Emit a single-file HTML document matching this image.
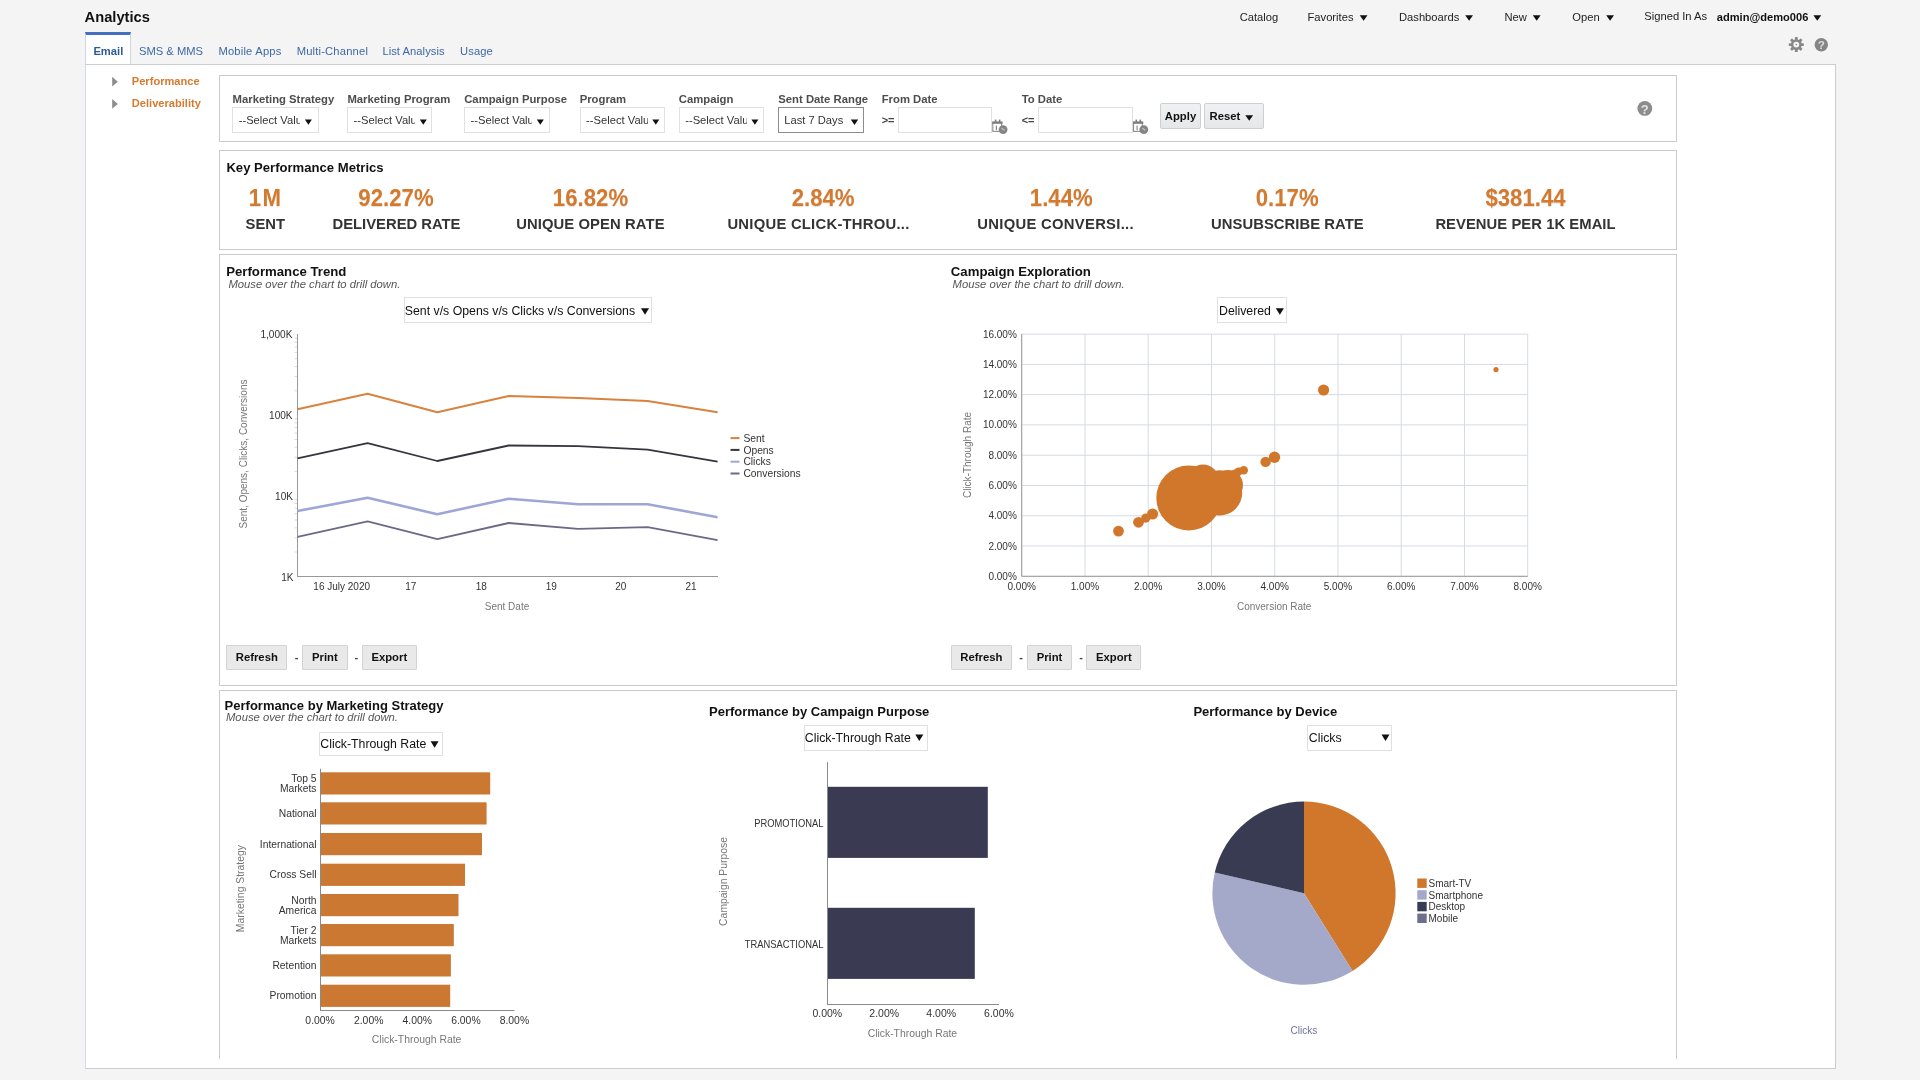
<!DOCTYPE html>
<html><head><meta charset="utf-8"><title>Analytics</title>
<style>
html,body{margin:0;padding:0;}
body{will-change:transform;width:1920px;height:1080px;overflow:hidden;background:#f4f4f4;font-family:"Liberation Sans", sans-serif;position:relative;}
.t{position:absolute;white-space:nowrap;}
.b{position:absolute;}
svg{position:absolute;left:0;top:0;}
svg text{font-family:"Liberation Sans", sans-serif;}
</style></head><body>
<div class="t" style="top:10.18px;font-size:14.7px;line-height:14.7px;font-weight:bold;color:#111;left:84.60px;">Analytics</div>
<div class="t" style="top:11.94px;font-size:11.2px;line-height:11.2px;color:#222;left:1239.70px;">Catalog</div>
<div class="t" style="top:11.94px;font-size:11.2px;line-height:11.2px;color:#222;left:1307.50px;">Favorites</div>
<div class="t" style="top:11.94px;font-size:11.2px;line-height:11.2px;color:#222;left:1399.00px;">Dashboards</div>
<div class="t" style="top:11.94px;font-size:11.2px;line-height:11.2px;color:#222;left:1504.50px;">New</div>
<div class="t" style="top:11.94px;font-size:11.2px;line-height:11.2px;color:#222;left:1572.30px;">Open</div>
<div class="t" style="top:11.14px;font-size:11.2px;line-height:11.2px;color:#222;left:1644.30px;">Signed In As</div>
<div class="t" style="top:12.02px;font-size:11.1px;line-height:11.1px;font-weight:bold;color:#111;left:1716.80px;">admin@demo006</div>
<div class="b" style="left:85px;top:64px;width:1751px;height:1005px;background:#fff;border:1px solid #cbcdd1;border-left-color:#d6d9e6;box-sizing:border-box;"></div>
<div class="b" style="left:85px;top:32px;width:46px;height:32px;background:#fff;border-left:1px solid #cfd5e2;border-right:1px solid #cfd5e2;border-top:3px solid #4470bf;box-sizing:border-box;"></div>
<div class="b" style="left:85px;top:63.5px;width:1751px;height:1.5px;background:#cbced3;"></div>
<div class="t" style="top:45.74px;font-size:11.2px;line-height:11.2px;font-weight:bold;color:#2f5b98;left:93.40px;">Email</div>
<div class="t" style="top:45.74px;font-size:11.2px;line-height:11.2px;color:#3d68a6;left:139.00px;letter-spacing:0px;">SMS &amp; MMS</div>
<div class="t" style="top:45.74px;font-size:11.2px;line-height:11.2px;color:#3d68a6;left:218.40px;letter-spacing:0.2px;">Mobile Apps</div>
<div class="t" style="top:45.74px;font-size:11.2px;line-height:11.2px;color:#3d68a6;left:296.70px;letter-spacing:0.18px;">Multi-Channel</div>
<div class="t" style="top:45.74px;font-size:11.2px;line-height:11.2px;color:#3d68a6;left:382.40px;letter-spacing:0.05px;">List Analysis</div>
<div class="t" style="top:45.74px;font-size:11.2px;line-height:11.2px;color:#3d68a6;left:460.10px;letter-spacing:0.1px;">Usage</div>
<div class="t" style="top:75.82px;font-size:11.1px;line-height:11.1px;font-weight:bold;color:#d57a2e;left:131.80px;">Performance</div>
<div class="t" style="top:97.92px;font-size:11.1px;line-height:11.1px;font-weight:bold;color:#d57a2e;left:131.80px;">Deliverability</div>
<div class="b" style="left:219px;top:75px;width:1458px;height:67px;background:#fff;border:1px solid #cacaca;box-sizing:border-box;"></div>
<div class="t" style="top:93.75px;font-size:11.3px;line-height:11.3px;font-weight:bold;color:#4d4d4d;left:232.60px;">Marketing Strategy</div>
<div class="t" style="top:93.75px;font-size:11.3px;line-height:11.3px;font-weight:bold;color:#4d4d4d;left:347.40px;">Marketing Program</div>
<div class="t" style="top:93.75px;font-size:11.3px;line-height:11.3px;font-weight:bold;color:#4d4d4d;left:464.20px;">Campaign Purpose</div>
<div class="t" style="top:93.75px;font-size:11.3px;line-height:11.3px;font-weight:bold;color:#4d4d4d;left:579.70px;">Program</div>
<div class="t" style="top:93.75px;font-size:11.3px;line-height:11.3px;font-weight:bold;color:#4d4d4d;left:678.80px;">Campaign</div>
<div class="t" style="top:93.75px;font-size:11.3px;line-height:11.3px;font-weight:bold;color:#4d4d4d;left:778.30px;">Sent Date Range</div>
<div class="t" style="top:93.75px;font-size:11.3px;line-height:11.3px;font-weight:bold;color:#4d4d4d;left:881.70px;">From Date</div>
<div class="t" style="top:93.75px;font-size:11.3px;line-height:11.3px;font-weight:bold;color:#4d4d4d;left:1021.70px;">To Date</div>
<div class="b" style="left:232px;top:107px;width:87px;height:26px;border:1px solid #e1e1e1;box-sizing:border-box;background:#fff;"></div>
<div class="t" style="left:238.7px;top:114.84px;font-size:11.2px;line-height:11.2px;color:#333;width:61.5px;overflow:hidden;">--Select Value</div>
<div class="b" style="left:347px;top:107px;width:85px;height:26px;border:1px solid #e1e1e1;box-sizing:border-box;background:#fff;"></div>
<div class="t" style="left:353.6px;top:114.84px;font-size:11.2px;line-height:11.2px;color:#333;width:61.5px;overflow:hidden;">--Select Value</div>
<div class="b" style="left:464px;top:107px;width:86px;height:26px;border:1px solid #e1e1e1;box-sizing:border-box;background:#fff;"></div>
<div class="t" style="left:470.6px;top:114.84px;font-size:11.2px;line-height:11.2px;color:#333;width:61.5px;overflow:hidden;">--Select Value</div>
<div class="b" style="left:580px;top:107px;width:85px;height:26px;border:1px solid #e1e1e1;box-sizing:border-box;background:#fff;"></div>
<div class="t" style="left:586.1px;top:114.84px;font-size:11.2px;line-height:11.2px;color:#333;width:61.5px;overflow:hidden;">--Select Value</div>
<div class="b" style="left:679px;top:107px;width:85px;height:26px;border:1px solid #e1e1e1;box-sizing:border-box;background:#fff;"></div>
<div class="t" style="left:685.2px;top:114.84px;font-size:11.2px;line-height:11.2px;color:#333;width:61.5px;overflow:hidden;">--Select Value</div>
<div class="b" style="left:778px;top:107px;width:86px;height:26px;border:1px solid #8c8c8c;box-sizing:border-box;background:#fff;"></div>
<div class="t" style="top:114.84px;font-size:11.2px;line-height:11.2px;color:#333;left:784.20px;">Last 7 Days</div>
<div class="t" style="top:114.50px;font-size:11px;line-height:11px;font-weight:bold;color:#444;left:881.70px;">&gt;=</div>
<div class="b" style="left:898px;top:107px;width:94px;height:26px;border:1px solid #e1e1e1;box-sizing:border-box;background:#fff;"></div>
<div class="t" style="top:114.50px;font-size:11px;line-height:11px;font-weight:bold;color:#444;left:1021.70px;">&lt;=</div>
<div class="b" style="left:1038px;top:107px;width:95px;height:26px;border:1px solid #e1e1e1;box-sizing:border-box;background:#fff;"></div>
<div class="b" style="left:1160px;top:103px;width:41px;height:26px;background:linear-gradient(#f0f1f2,#e6e7e8);border:1px solid #cdd0d3;box-sizing:border-box;border-radius:2px;"></div>
<div class="t" style="top:111.45px;font-size:11.3px;line-height:11.3px;font-weight:bold;color:#111;left:1180.50px;transform:translateX(-50%);">Apply</div>
<div class="b" style="left:1204px;top:103px;width:60px;height:26px;background:linear-gradient(#f0f1f2,#e6e7e8);border:1px solid #cdd0d3;box-sizing:border-box;border-radius:2px;"></div>
<div class="t" style="top:111.45px;font-size:11.3px;line-height:11.3px;font-weight:bold;color:#111;left:1209.60px;">Reset</div>
<div class="b" style="left:219px;top:150px;width:1458px;height:100px;background:#fff;border:1px solid #cacaca;box-sizing:border-box;"></div>
<div class="t" style="top:160.73px;font-size:13.1px;line-height:13.1px;font-weight:bold;color:#111;left:226.40px;">Key Performance Metrics</div>
<div class="t" style="top:188.14px;font-size:22.2px;line-height:22.2px;font-weight:bold;color:#d5792d;left:265.50px;transform:translateX(-50%) scaleY(1.09);transform-origin:50% 18.76px;text-shadow:0 1px 1px rgba(0,0,0,0.13);letter-spacing:1.3px;">1M</div>
<div class="t" style="top:188.14px;font-size:22.2px;line-height:22.2px;font-weight:bold;color:#d5792d;left:396.00px;transform:translateX(-50%) scaleY(1.09);transform-origin:50% 18.76px;text-shadow:0 1px 1px rgba(0,0,0,0.13);letter-spacing:0px;">92.27%</div>
<div class="t" style="top:188.14px;font-size:22.2px;line-height:22.2px;font-weight:bold;color:#d5792d;left:590.50px;transform:translateX(-50%) scaleY(1.09);transform-origin:50% 18.76px;text-shadow:0 1px 1px rgba(0,0,0,0.13);letter-spacing:0px;">16.82%</div>
<div class="t" style="top:188.14px;font-size:22.2px;line-height:22.2px;font-weight:bold;color:#d5792d;left:823.10px;transform:translateX(-50%) scaleY(1.09);transform-origin:50% 18.76px;text-shadow:0 1px 1px rgba(0,0,0,0.13);letter-spacing:0px;">2.84%</div>
<div class="t" style="top:188.14px;font-size:22.2px;line-height:22.2px;font-weight:bold;color:#d5792d;left:1061.30px;transform:translateX(-50%) scaleY(1.09);transform-origin:50% 18.76px;text-shadow:0 1px 1px rgba(0,0,0,0.13);letter-spacing:0px;">1.44%</div>
<div class="t" style="top:188.14px;font-size:22.2px;line-height:22.2px;font-weight:bold;color:#d5792d;left:1287.20px;transform:translateX(-50%) scaleY(1.09);transform-origin:50% 18.76px;text-shadow:0 1px 1px rgba(0,0,0,0.13);letter-spacing:0px;">0.17%</div>
<div class="t" style="top:188.14px;font-size:22.2px;line-height:22.2px;font-weight:bold;color:#d5792d;left:1525.50px;transform:translateX(-50%) scaleY(1.09);transform-origin:50% 18.76px;text-shadow:0 1px 1px rgba(0,0,0,0.13);letter-spacing:0px;">$381.44</div>
<div class="t" style="top:217.49px;font-size:14.8px;line-height:14.8px;font-weight:bold;color:#333;left:265.30px;transform:translateX(-50%);letter-spacing:0px;">SENT</div>
<div class="t" style="top:217.49px;font-size:14.8px;line-height:14.8px;font-weight:bold;color:#333;left:396.50px;transform:translateX(-50%);letter-spacing:0px;">DELIVERED RATE</div>
<div class="t" style="top:217.49px;font-size:14.8px;line-height:14.8px;font-weight:bold;color:#333;left:590.40px;transform:translateX(-50%);letter-spacing:0.1px;">UNIQUE OPEN RATE</div>
<div class="t" style="top:217.49px;font-size:14.8px;line-height:14.8px;font-weight:bold;color:#333;left:818.50px;transform:translateX(-50%);letter-spacing:0.26px;">UNIQUE CLICK-THROU...</div>
<div class="t" style="top:217.49px;font-size:14.8px;line-height:14.8px;font-weight:bold;color:#333;left:1055.60px;transform:translateX(-50%);letter-spacing:0.3px;">UNIQUE CONVERSI...</div>
<div class="t" style="top:217.49px;font-size:14.8px;line-height:14.8px;font-weight:bold;color:#333;left:1287.40px;transform:translateX(-50%);letter-spacing:0.05px;">UNSUBSCRIBE RATE</div>
<div class="t" style="top:217.49px;font-size:14.8px;line-height:14.8px;font-weight:bold;color:#333;left:1525.50px;transform:translateX(-50%);letter-spacing:0.05px;">REVENUE PER 1K EMAIL</div>
<div class="b" style="left:219px;top:254px;width:1458px;height:432px;background:#fff;border:1px solid #cacaca;box-sizing:border-box;"></div>
<div class="t" style="top:264.75px;font-size:13.2px;line-height:13.2px;font-weight:bold;color:#111;left:226.20px;">Performance Trend</div>
<div class="t" style="top:278.59px;font-size:11.25px;line-height:11.25px;font-style:italic;color:#555;left:228.40px;">Mouse over the chart to drill down.</div>
<div class="t" style="top:264.75px;font-size:13.2px;line-height:13.2px;font-weight:bold;color:#111;left:950.80px;">Campaign Exploration</div>
<div class="t" style="top:278.59px;font-size:11.25px;line-height:11.25px;font-style:italic;color:#555;left:952.60px;">Mouse over the chart to drill down.</div>
<div class="b" style="left:404px;top:297px;width:248px;height:25.5px;border:1px solid #e0e0e0;box-sizing:border-box;background:#fff;"></div>
<div class="t" style="top:304.61px;font-size:12.3px;line-height:12.3px;color:#111;left:404.80px;">Sent v/s Opens v/s Clicks v/s Conversions</div>
<div class="b" style="left:1217px;top:297px;width:70px;height:25.5px;border:1px solid #e0e0e0;box-sizing:border-box;background:#fff;"></div>
<div class="t" style="top:304.61px;font-size:12.3px;line-height:12.3px;color:#111;left:1219.00px;">Delivered</div>
<div class="b" style="left:226.1px;top:645px;width:61.400000000000006px;height:24.5px;background:#e9e9e9;border:1px solid #d3d3d3;box-sizing:border-box;border-radius:1px;"></div>
<div class="t" style="top:651.75px;font-size:11.3px;line-height:11.3px;font-weight:bold;color:#111;left:256.80px;transform:translateX(-50%);">Refresh</div>
<div class="t" style="top:651.71px;font-size:11px;line-height:11px;font-weight:bold;color:#444;left:296.60px;transform:translateX(-50%);">-</div>
<div class="b" style="left:302.0px;top:645px;width:45.89999999999998px;height:24.5px;background:#e9e9e9;border:1px solid #d3d3d3;box-sizing:border-box;border-radius:1px;"></div>
<div class="t" style="top:651.75px;font-size:11.3px;line-height:11.3px;font-weight:bold;color:#111;left:324.90px;transform:translateX(-50%);">Print</div>
<div class="t" style="top:651.71px;font-size:11px;line-height:11px;font-weight:bold;color:#444;left:356.40px;transform:translateX(-50%);">-</div>
<div class="b" style="left:361.79999999999995px;top:645px;width:54.900000000000034px;height:24.5px;background:#e9e9e9;border:1px solid #d3d3d3;box-sizing:border-box;border-radius:1px;"></div>
<div class="t" style="top:651.75px;font-size:11.3px;line-height:11.3px;font-weight:bold;color:#111;left:389.30px;transform:translateX(-50%);">Export</div>
<div class="b" style="left:950.7px;top:645px;width:61.39999999999998px;height:24.5px;background:#e9e9e9;border:1px solid #d3d3d3;box-sizing:border-box;border-radius:1px;"></div>
<div class="t" style="top:651.75px;font-size:11.3px;line-height:11.3px;font-weight:bold;color:#111;left:981.40px;transform:translateX(-50%);">Refresh</div>
<div class="t" style="top:651.71px;font-size:11px;line-height:11px;font-weight:bold;color:#444;left:1021.20px;transform:translateX(-50%);">-</div>
<div class="b" style="left:1026.6000000000001px;top:645px;width:45.899999999999864px;height:24.5px;background:#e9e9e9;border:1px solid #d3d3d3;box-sizing:border-box;border-radius:1px;"></div>
<div class="t" style="top:651.75px;font-size:11.3px;line-height:11.3px;font-weight:bold;color:#111;left:1049.50px;transform:translateX(-50%);">Print</div>
<div class="t" style="top:651.71px;font-size:11px;line-height:11px;font-weight:bold;color:#444;left:1081.00px;transform:translateX(-50%);">-</div>
<div class="b" style="left:1086.4px;top:645px;width:54.899999999999864px;height:24.5px;background:#e9e9e9;border:1px solid #d3d3d3;box-sizing:border-box;border-radius:1px;"></div>
<div class="t" style="top:651.75px;font-size:11.3px;line-height:11.3px;font-weight:bold;color:#111;left:1113.90px;transform:translateX(-50%);">Export</div>
<div class="b" style="left:219px;top:690px;width:1458px;height:369px;background:#fff;border:1px solid #cacaca;box-sizing:border-box;border-bottom:none;"></div>
<div class="t" style="top:698.91px;font-size:13px;line-height:13px;font-weight:bold;color:#111;left:224.60px;">Performance by Marketing Strategy</div>
<div class="t" style="top:712.39px;font-size:11.25px;line-height:11.25px;font-style:italic;color:#555;left:226.00px;">Mouse over the chart to drill down.</div>
<div class="t" style="top:705.12px;font-size:13px;line-height:13px;font-weight:bold;color:#111;left:709.00px;">Performance by Campaign Purpose</div>
<div class="t" style="top:705.12px;font-size:13px;line-height:13px;font-weight:bold;color:#111;left:1193.40px;">Performance by Device</div>
<div class="b" style="left:319.4px;top:731.5px;width:123.60000000000002px;height:24.700000000000045px;border:1px solid #e0e0e0;box-sizing:border-box;background:#fff;"></div>
<div class="t" style="top:738.21px;font-size:12.3px;line-height:12.3px;color:#111;left:320.30px;">Click-Through Rate</div>
<div class="b" style="left:804px;top:725px;width:123.60000000000002px;height:25.799999999999955px;border:1px solid #e0e0e0;box-sizing:border-box;background:#fff;"></div>
<div class="t" style="top:731.91px;font-size:12.3px;line-height:12.3px;color:#111;left:804.80px;">Click-Through Rate</div>
<div class="b" style="left:1307.1px;top:725px;width:85.20000000000005px;height:25.5px;border:1px solid #e0e0e0;box-sizing:border-box;background:#fff;"></div>
<div class="t" style="top:731.91px;font-size:12.3px;line-height:12.3px;color:#111;left:1308.80px;">Clicks</div>
<div class="b" style="left:0px;top:1069px;width:1920px;height:11px;background:#f4f4f4;"></div>
<svg width="1920" height="1080" viewBox="0 0 1920 1080">
<polygon points="1359.7,15.2 1367.5,15.2 1363.6,20.8" fill="#111"/>
<polygon points="1465.2,15.2 1473,15.2 1469.1,20.8" fill="#111"/>
<polygon points="1532.8,15.2 1540.6,15.2 1536.6999999999998,20.8" fill="#111"/>
<polygon points="1606.2,15.2 1614,15.2 1610.1,20.8" fill="#111"/>
<polygon points="1813.4,15.2 1821.2,15.2 1817.3000000000002,20.8" fill="#111"/>
<rect x="1794.8999999999999" y="37.1" width="2.8" height="3.6" rx="0.6" fill="#878787" transform="rotate(0 1796.3 44.6)"/><rect x="1794.8999999999999" y="37.1" width="2.8" height="3.6" rx="0.6" fill="#878787" transform="rotate(45 1796.3 44.6)"/><rect x="1794.8999999999999" y="37.1" width="2.8" height="3.6" rx="0.6" fill="#878787" transform="rotate(90 1796.3 44.6)"/><rect x="1794.8999999999999" y="37.1" width="2.8" height="3.6" rx="0.6" fill="#878787" transform="rotate(135 1796.3 44.6)"/><rect x="1794.8999999999999" y="37.1" width="2.8" height="3.6" rx="0.6" fill="#878787" transform="rotate(180 1796.3 44.6)"/><rect x="1794.8999999999999" y="37.1" width="2.8" height="3.6" rx="0.6" fill="#878787" transform="rotate(225 1796.3 44.6)"/><rect x="1794.8999999999999" y="37.1" width="2.8" height="3.6" rx="0.6" fill="#878787" transform="rotate(270 1796.3 44.6)"/><rect x="1794.8999999999999" y="37.1" width="2.8" height="3.6" rx="0.6" fill="#878787" transform="rotate(315 1796.3 44.6)"/><circle cx="1796.3" cy="44.6" r="5.4" fill="#878787"/><circle cx="1796.3" cy="44.6" r="2.9" fill="#f4f4f4"/><circle cx="1796.3" cy="44.6" r="0.8" fill="#878787"/>
<circle cx="1821.3" cy="44.7" r="6.7" fill="#858585"/>
<text x="1821.3" y="49.39" font-size="11.7" font-weight="bold" fill="#dcdcdc" text-anchor="middle">?</text>
<polygon points="112.2,76.8 117.8,81.69999999999999 112.2,86.6" fill="#8d8d8d"/>
<polygon points="112.2,99.0 117.8,103.9 112.2,108.8" fill="#8d8d8d"/>
<polygon points="304.9,119.4 311.9,119.4 308.4,124.8" fill="#111"/>
<polygon points="419.79999999999995,119.4 426.79999999999995,119.4 423.29999999999995,124.8" fill="#111"/>
<polygon points="536.8,119.4 543.8,119.4 540.3,124.8" fill="#111"/>
<polygon points="652.3000000000001,119.4 659.3000000000001,119.4 655.8000000000001,124.8" fill="#111"/>
<polygon points="751.4,119.4 758.4,119.4 754.9,124.8" fill="#111"/>
<polygon points="850.8,119.6 858.2,119.6 854.5,125" fill="#111"/>
<rect x="992.8000000000001" y="122.19999999999999" width="8.8" height="9.2" fill="#fff" stroke="#8d8d8d" stroke-width="1.1"/><rect x="992.2" y="121.6" width="10.4" height="2.2" fill="#7d7d7d"/><rect x="994.8000000000001" y="119.6" width="1.6" height="2.5" fill="#7d7d7d"/><rect x="998.8000000000001" y="119.6" width="1.6" height="2.5" fill="#7d7d7d"/><rect x="995.8000000000001" y="125.6" width="1.2" height="4.6" fill="#8d8d8d"/><circle cx="1003.1" cy="129.6" r="4.4" fill="#858585"/><path d="M1001.6 128.2 L1004.6 130.2" stroke="#c4c4c8" stroke-width="1.3" fill="none"/>
<rect x="1133.5" y="122.19999999999999" width="8.8" height="9.2" fill="#fff" stroke="#8d8d8d" stroke-width="1.1"/><rect x="1132.9" y="121.6" width="10.4" height="2.2" fill="#7d7d7d"/><rect x="1135.5" y="119.6" width="1.6" height="2.5" fill="#7d7d7d"/><rect x="1139.5" y="119.6" width="1.6" height="2.5" fill="#7d7d7d"/><rect x="1136.5" y="125.6" width="1.2" height="4.6" fill="#8d8d8d"/><circle cx="1143.8000000000002" cy="129.6" r="4.4" fill="#858585"/><path d="M1142.3000000000002 128.2 L1145.3000000000002 130.2" stroke="#c4c4c8" stroke-width="1.3" fill="none"/>
<polygon points="1245.3,115.2 1253.1,115.2 1249.1999999999998,120.7" fill="#111"/>
<circle cx="1644.8" cy="108.4" r="7.4" fill="#8c8c8c"/>
<text x="1644.8" y="113.58" font-size="13.0" font-weight="bold" fill="#e4e4e6" text-anchor="middle">?</text>
<polygon points="641,308.3 649,308.3 645.0,314.7" fill="#111"/>
<polygon points="1275.8,308.3 1283.9,308.3 1279.85,314.7" fill="#111"/>
<line x1="297.5" y1="334" x2="297.5" y2="576.5" stroke="#999999" stroke-width="1"/>
<line x1="297" y1="576.5" x2="718" y2="576.5" stroke="#999999" stroke-width="1"/>
<line x1="294.5" y1="552.0" x2="297" y2="552.0" stroke="#dadada" stroke-width="1"/>
<line x1="294.5" y1="537.8" x2="297" y2="537.8" stroke="#dadada" stroke-width="1"/>
<line x1="294.5" y1="527.8" x2="297" y2="527.8" stroke="#dadada" stroke-width="1"/>
<line x1="294.5" y1="520.0" x2="297" y2="520.0" stroke="#dadada" stroke-width="1"/>
<line x1="294.5" y1="513.6" x2="297" y2="513.6" stroke="#dadada" stroke-width="1"/>
<line x1="294.5" y1="508.2" x2="297" y2="508.2" stroke="#dadada" stroke-width="1"/>
<line x1="294.5" y1="503.5" x2="297" y2="503.5" stroke="#dadada" stroke-width="1"/>
<line x1="294.5" y1="499.4" x2="297" y2="499.4" stroke="#dadada" stroke-width="1"/>
<line x1="294.5" y1="471.4" x2="297" y2="471.4" stroke="#dadada" stroke-width="1"/>
<line x1="294.5" y1="457.2" x2="297" y2="457.2" stroke="#dadada" stroke-width="1"/>
<line x1="294.5" y1="447.2" x2="297" y2="447.2" stroke="#dadada" stroke-width="1"/>
<line x1="294.5" y1="439.4" x2="297" y2="439.4" stroke="#dadada" stroke-width="1"/>
<line x1="294.5" y1="433.0" x2="297" y2="433.0" stroke="#dadada" stroke-width="1"/>
<line x1="294.5" y1="427.6" x2="297" y2="427.6" stroke="#dadada" stroke-width="1"/>
<line x1="294.5" y1="422.9" x2="297" y2="422.9" stroke="#dadada" stroke-width="1"/>
<line x1="294.5" y1="418.8" x2="297" y2="418.8" stroke="#dadada" stroke-width="1"/>
<line x1="294.5" y1="390.8" x2="297" y2="390.8" stroke="#dadada" stroke-width="1"/>
<line x1="294.5" y1="376.6" x2="297" y2="376.6" stroke="#dadada" stroke-width="1"/>
<line x1="294.5" y1="366.6" x2="297" y2="366.6" stroke="#dadada" stroke-width="1"/>
<line x1="294.5" y1="358.8" x2="297" y2="358.8" stroke="#dadada" stroke-width="1"/>
<line x1="294.5" y1="352.4" x2="297" y2="352.4" stroke="#dadada" stroke-width="1"/>
<line x1="294.5" y1="347.0" x2="297" y2="347.0" stroke="#dadada" stroke-width="1"/>
<line x1="294.5" y1="342.3" x2="297" y2="342.3" stroke="#dadada" stroke-width="1"/>
<line x1="294.5" y1="338.2" x2="297" y2="338.2" stroke="#dadada" stroke-width="1"/>
<text x="293.6" y="580.9" font-size="10.1" fill="#333" text-anchor="end">1K</text>
<text x="293.0" y="499.59999999999997" font-size="10.1" fill="#333" text-anchor="end">10K</text>
<text x="292.6" y="419.0" font-size="10.1" fill="#333" text-anchor="end">100K</text>
<text x="292.4" y="338.1" font-size="10.1" fill="#333" text-anchor="end">1,000K</text>
<text x="341.7" y="589.6" font-size="10" fill="#333" text-anchor="middle">16 July 2020</text>
<text x="410.8" y="589.6" font-size="10" fill="#333" text-anchor="middle">17</text>
<text x="481.2" y="589.6" font-size="10" fill="#333" text-anchor="middle">18</text>
<text x="551.3" y="589.6" font-size="10" fill="#333" text-anchor="middle">19</text>
<text x="620.7" y="589.6" font-size="10" fill="#333" text-anchor="middle">20</text>
<text x="691.1" y="589.6" font-size="10" fill="#333" text-anchor="middle">21</text>
<text x="507" y="609.6" font-size="10" fill="#777" text-anchor="middle">Sent Date</text>
<text x="246.5" y="454" font-size="10" fill="#777" text-anchor="middle" transform="rotate(-90 246.5 454)">Sent, Opens, Clicks, Conversions</text>
<polyline points="297.5,409.3 367.6,393.8 437.3,412.2 508.7,396.1 578.1,398.0 647.6,401.0 717.6,412.2" fill="none" stroke="#d9823e" stroke-width="2.0" stroke-linejoin="round"/>
<polyline points="297.5,458.4 367.6,443.2 437.3,461.0 508.7,445.5 578.1,446.2 647.6,449.7 717.6,461.7" fill="none" stroke="#35353f" stroke-width="1.8" stroke-linejoin="round"/>
<polyline points="297.5,511.0 367.6,497.8 437.3,514.2 508.7,498.7 578.1,504.2 647.6,504.2 717.6,517.2" fill="none" stroke="#9ea6d6" stroke-width="2.6" stroke-linejoin="round"/>
<polyline points="297.5,536.8 367.6,521.3 437.3,539.1 508.7,523.0 578.1,528.8 647.6,527.2 717.6,540.1" fill="none" stroke="#6a6a88" stroke-width="1.8" stroke-linejoin="round"/>
<line x1="730.5" y1="438.1" x2="739.5" y2="438.1" stroke="#d9823e" stroke-width="2"/>
<text x="743.4" y="441.70000000000005" font-size="10.3" fill="#333" text-anchor="start">Sent</text>
<line x1="730.5" y1="449.9" x2="739.5" y2="449.9" stroke="#35353f" stroke-width="2"/>
<text x="743.4" y="453.50000000000006" font-size="10.3" fill="#333" text-anchor="start">Opens</text>
<line x1="730.5" y1="461.7" x2="739.5" y2="461.7" stroke="#9ea6d6" stroke-width="2"/>
<text x="743.4" y="465.30000000000007" font-size="10.3" fill="#333" text-anchor="start">Clicks</text>
<line x1="730.5" y1="473.5" x2="739.5" y2="473.5" stroke="#6a6a88" stroke-width="2"/>
<text x="743.4" y="477.1" font-size="10.3" fill="#333" text-anchor="start">Conversions</text>
<line x1="1021.7" y1="334.1" x2="1021.7" y2="576.3" stroke="#d6dbe3" stroke-width="1"/>
<line x1="1021.7" y1="334.1" x2="1527.7" y2="334.1" stroke="#d6dbe3" stroke-width="1"/>
<line x1="1085.0" y1="334.1" x2="1085.0" y2="576.3" stroke="#d6dbe3" stroke-width="1"/>
<line x1="1021.7" y1="364.4" x2="1527.7" y2="364.4" stroke="#d6dbe3" stroke-width="1"/>
<line x1="1148.2" y1="334.1" x2="1148.2" y2="576.3" stroke="#d6dbe3" stroke-width="1"/>
<line x1="1021.7" y1="394.6" x2="1527.7" y2="394.6" stroke="#d6dbe3" stroke-width="1"/>
<line x1="1211.5" y1="334.1" x2="1211.5" y2="576.3" stroke="#d6dbe3" stroke-width="1"/>
<line x1="1021.7" y1="424.9" x2="1527.7" y2="424.9" stroke="#d6dbe3" stroke-width="1"/>
<line x1="1274.7" y1="334.1" x2="1274.7" y2="576.3" stroke="#d6dbe3" stroke-width="1"/>
<line x1="1021.7" y1="455.2" x2="1527.7" y2="455.2" stroke="#d6dbe3" stroke-width="1"/>
<line x1="1338.0" y1="334.1" x2="1338.0" y2="576.3" stroke="#d6dbe3" stroke-width="1"/>
<line x1="1021.7" y1="485.5" x2="1527.7" y2="485.5" stroke="#d6dbe3" stroke-width="1"/>
<line x1="1401.2" y1="334.1" x2="1401.2" y2="576.3" stroke="#d6dbe3" stroke-width="1"/>
<line x1="1021.7" y1="515.8" x2="1527.7" y2="515.8" stroke="#d6dbe3" stroke-width="1"/>
<line x1="1464.5" y1="334.1" x2="1464.5" y2="576.3" stroke="#d6dbe3" stroke-width="1"/>
<line x1="1021.7" y1="546.0" x2="1527.7" y2="546.0" stroke="#d6dbe3" stroke-width="1"/>
<line x1="1527.7" y1="334.1" x2="1527.7" y2="576.3" stroke="#d6dbe3" stroke-width="1"/>
<line x1="1021.7" y1="576.3" x2="1527.7" y2="576.3" stroke="#d6dbe3" stroke-width="1"/>
<line x1="1021.7" y1="334.1" x2="1021.7" y2="576.3" stroke="#9a9a9a" stroke-width="1"/>
<line x1="1021.7" y1="576.3" x2="1527.7" y2="576.3" stroke="#9a9a9a" stroke-width="1"/>
<text x="1016.8" y="579.8" font-size="10" fill="#333" text-anchor="end">0.00%</text>
<text x="1021.7" y="589.8" font-size="10" fill="#333" text-anchor="middle">0.00%</text>
<text x="1016.8" y="549.525" font-size="10" fill="#333" text-anchor="end">2.00%</text>
<text x="1084.95" y="589.8" font-size="10" fill="#333" text-anchor="middle">1.00%</text>
<text x="1016.8" y="519.25" font-size="10" fill="#333" text-anchor="end">4.00%</text>
<text x="1148.2" y="589.8" font-size="10" fill="#333" text-anchor="middle">2.00%</text>
<text x="1016.8" y="488.97499999999997" font-size="10" fill="#333" text-anchor="end">6.00%</text>
<text x="1211.45" y="589.8" font-size="10" fill="#333" text-anchor="middle">3.00%</text>
<text x="1016.8" y="458.7" font-size="10" fill="#333" text-anchor="end">8.00%</text>
<text x="1274.7" y="589.8" font-size="10" fill="#333" text-anchor="middle">4.00%</text>
<text x="1016.8" y="428.425" font-size="10" fill="#333" text-anchor="end">10.00%</text>
<text x="1337.95" y="589.8" font-size="10" fill="#333" text-anchor="middle">5.00%</text>
<text x="1016.8" y="398.15" font-size="10" fill="#333" text-anchor="end">12.00%</text>
<text x="1401.2" y="589.8" font-size="10" fill="#333" text-anchor="middle">6.00%</text>
<text x="1016.8" y="367.875" font-size="10" fill="#333" text-anchor="end">14.00%</text>
<text x="1464.45" y="589.8" font-size="10" fill="#333" text-anchor="middle">7.00%</text>
<text x="1016.8" y="337.6" font-size="10" fill="#333" text-anchor="end">16.00%</text>
<text x="1527.7" y="589.8" font-size="10" fill="#333" text-anchor="middle">8.00%</text>
<text x="1274.2" y="609.8" font-size="10" fill="#777" text-anchor="middle">Conversion Rate</text>
<text x="970.8" y="455" font-size="10" fill="#777" text-anchor="middle" transform="rotate(-90 970.8 455)">Click-Through Rate</text>
<circle cx="1496" cy="369.6" r="2.6" fill="#d0772c"/>
<circle cx="1323.6" cy="390" r="5.6" fill="#d0772c"/>
<circle cx="1274.5" cy="457.2" r="5.7" fill="#d0772c"/>
<circle cx="1265.6" cy="461.9" r="5.2" fill="#d0772c"/>
<circle cx="1243.7" cy="470.2" r="4.3" fill="#d0772c"/>
<circle cx="1238.5" cy="471.6" r="4.2" fill="#d0772c"/>
<circle cx="1235" cy="474.5" r="5" fill="#d0772c"/>
<circle cx="1188.8" cy="498" r="32.5" fill="#d0772c"/>
<circle cx="1219.5" cy="492.9" r="22.7" fill="#d0772c"/>
<circle cx="1203" cy="480.5" r="16" fill="#d0772c"/>
<circle cx="1228" cy="485" r="15" fill="#d0772c"/>
<circle cx="1152.6" cy="514" r="5.5" fill="#d0772c"/>
<circle cx="1145.8" cy="518.1" r="4.6" fill="#d0772c"/>
<circle cx="1138.5" cy="522.3" r="5.4" fill="#d0772c"/>
<circle cx="1118.5" cy="531.1" r="5.4" fill="#d0772c"/>
<polygon points="430.6,741.3 438.6,741.3 434.6,747.7" fill="#111"/>
<polygon points="915.3,734.6 923.3,734.6 919.3,741" fill="#111"/>
<polygon points="1381.5,734.6 1389.5,734.6 1385.5,741" fill="#111"/>
<line x1="320.5" y1="768.7" x2="320.5" y2="1010.5" stroke="#8a8a8a"/>
<line x1="320" y1="1010.5" x2="514.4" y2="1010.5" stroke="#8a8a8a"/>
<rect x="321" y="772.3" width="169.2" height="22.2" fill="#cb7832"/>
<text x="316.5" y="782.1" font-size="10.3" fill="#333" text-anchor="end">Top 5</text>
<text x="316.5" y="792.0" font-size="10.3" fill="#333" text-anchor="end">Markets</text>
<rect x="321" y="802.3" width="165.6" height="22.2" fill="#cb7832"/>
<text x="316.5" y="817.0" font-size="10.3" fill="#333" text-anchor="end">National</text>
<rect x="321" y="833" width="161.0" height="22.2" fill="#cb7832"/>
<text x="316.5" y="847.7" font-size="10.3" fill="#333" text-anchor="end">International</text>
<rect x="321" y="863.7" width="144.0" height="22.2" fill="#cb7832"/>
<text x="316.5" y="878.4000000000001" font-size="10.3" fill="#333" text-anchor="end">Cross Sell</text>
<rect x="321" y="894" width="137.5" height="22.2" fill="#cb7832"/>
<text x="316.5" y="903.8000000000001" font-size="10.3" fill="#333" text-anchor="end">North</text>
<text x="316.5" y="913.7" font-size="10.3" fill="#333" text-anchor="end">America</text>
<rect x="321" y="924" width="132.8" height="22.2" fill="#cb7832"/>
<text x="316.5" y="933.8000000000001" font-size="10.3" fill="#333" text-anchor="end">Tier 2</text>
<text x="316.5" y="943.7" font-size="10.3" fill="#333" text-anchor="end">Markets</text>
<rect x="321" y="954.3" width="129.9" height="22.2" fill="#cb7832"/>
<text x="316.5" y="969.0" font-size="10.3" fill="#333" text-anchor="end">Retention</text>
<rect x="321" y="984.7" width="129.2" height="22.2" fill="#cb7832"/>
<text x="316.5" y="999.4000000000001" font-size="10.3" fill="#333" text-anchor="end">Promotion</text>
<text x="320.1" y="1023.5" font-size="10.4" fill="#333" text-anchor="middle">0.00%</text>
<text x="368.7" y="1023.5" font-size="10.4" fill="#333" text-anchor="middle">2.00%</text>
<text x="417.3" y="1023.5" font-size="10.4" fill="#333" text-anchor="middle">4.00%</text>
<text x="465.9" y="1023.5" font-size="10.4" fill="#333" text-anchor="middle">6.00%</text>
<text x="514.4" y="1023.5" font-size="10.4" fill="#333" text-anchor="middle">8.00%</text>
<text x="416.6" y="1043.3" font-size="10.4" fill="#777" text-anchor="middle">Click-Through Rate</text>
<text x="244.3" y="888.6" font-size="10.4" fill="#777" text-anchor="middle" transform="rotate(-90 244.3 888.6)">Marketing Strategy</text>
<line x1="827.5" y1="762.2" x2="827.5" y2="1004.5" stroke="#8a8a8a"/>
<line x1="827" y1="1004.5" x2="999" y2="1004.5" stroke="#8a8a8a"/>
<rect x="828" y="786.8" width="159.8" height="71.1" fill="#3a3b52"/>
<rect x="828" y="907.8" width="146.8" height="71.1" fill="#3a3b52"/>
<text x="823.5" y="826.6" font-size="10.2" fill="#333" text-anchor="end" transform="translate(823.5 0) scale(0.92 1) translate(-823.5 0)">PROMOTIONAL</text>
<text x="823.5" y="947.6" font-size="10.2" fill="#333" text-anchor="end" transform="translate(823.5 0) scale(0.92 1) translate(-823.5 0)">TRANSACTIONAL</text>
<text x="827.3" y="1017" font-size="10.5" fill="#333" text-anchor="middle">0.00%</text>
<text x="884.2" y="1017" font-size="10.5" fill="#333" text-anchor="middle">2.00%</text>
<text x="941.2" y="1017" font-size="10.5" fill="#333" text-anchor="middle">4.00%</text>
<text x="999" y="1017" font-size="10.5" fill="#333" text-anchor="middle">6.00%</text>
<text x="912.4" y="1036.8" font-size="10.4" fill="#777" text-anchor="middle">Click-Through Rate</text>
<text x="727.3" y="881.4" font-size="10.4" fill="#777" text-anchor="middle" transform="rotate(-90 727.3 881.4)">Campaign Purpose</text>
<path d="M1304,893.2 L1304.00,801.60 A91.6,91.6 0 0 1 1352.54,970.88 Z" fill="#d0772c"/>
<path d="M1304,893.2 L1352.54,970.88 A91.6,91.6 0 0 1 1214.75,872.59 Z" fill="#a4a9c9"/>
<path d="M1304,893.2 L1214.75,872.59 A91.6,91.6 0 0 1 1304.00,801.60 Z" fill="#393b52"/>
<rect x="1417.3" y="878.5" width="9.4" height="9.4" fill="#d0772c"/>
<text x="1428.5" y="886.8000000000001" font-size="10" fill="#333" text-anchor="start">Smart-TV</text>
<rect x="1417.3" y="890.2" width="9.4" height="9.4" fill="#a4a9c9"/>
<text x="1428.5" y="898.5000000000001" font-size="10" fill="#333" text-anchor="start">Smartphone</text>
<rect x="1417.3" y="901.9" width="9.4" height="9.4" fill="#393b52"/>
<text x="1428.5" y="910.2" font-size="10" fill="#333" text-anchor="start">Desktop</text>
<rect x="1417.3" y="913.6" width="9.4" height="9.4" fill="#6e6f8c"/>
<text x="1428.5" y="921.9000000000001" font-size="10" fill="#333" text-anchor="start">Mobile</text>
<text x="1303.9" y="1033.8" font-size="10" fill="#6f6f9e" text-anchor="middle">Clicks</text>
</svg>
</body></html>
